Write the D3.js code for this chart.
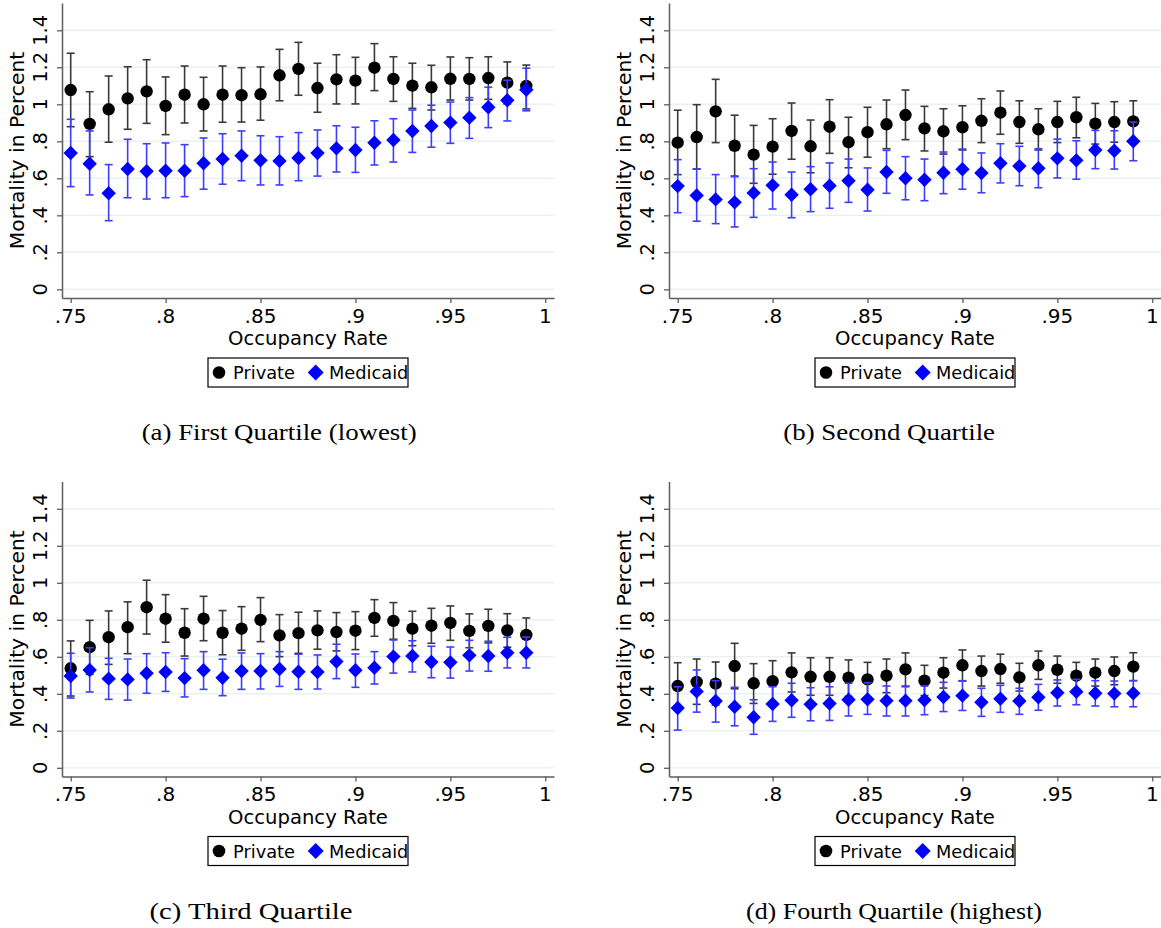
<!DOCTYPE html>
<html>
<head>
<meta charset="utf-8">
<script src="https://cdn.jsdelivr.net/npm/d3@7"></script>
<style>
  html, body { margin: 0; padding: 0; background: #fff; }
  svg { display: block; }
</style>
</head>
<body>
<svg id="chart" width="1161" height="928"></svg>
<script>
// ---------------- DATA ----------------
const occupancy = [0.75,0.76,0.77,0.78,0.79,0.80,0.81,0.82,0.83,0.84,0.85,0.86,0.87,0.88,0.89,0.90,0.91,0.92,0.93,0.94,0.95,0.96,0.97,0.98,0.99];
const xTickValues = [0.75,0.80,0.85,0.90,0.95,1.00];
const xTickLabels = [".75",".8",".85",".9",".95","1"];
const yTickValues = [0,0.2,0.4,0.6,0.8,1.0,1.2,1.4];
const yTickLabels = ["0",".2",".4",".6",".8","1","1.2","1.4"];
const seriesNames = ["Private","Medicaid"];
const xTitle = "Occupancy Rate";
const yTitle = "Mortality in Percent";
const captions = ["(a) First Quartile (lowest)","(b) Second Quartile","(c) Third Quartile","(d) Fourth Quartile (highest)"];

// Panel (a) First quartile
const privEstA = [1.077,0.894,0.973,1.032,1.070,0.991,1.052,1.000,1.052,1.049,1.054,1.157,1.191,1.088,1.135,1.128,1.198,1.137,1.101,1.092,1.138,1.137,1.142,1.117,1.099];
const privLoA  = [0.879,0.717,0.795,0.865,0.897,0.836,0.899,0.856,0.903,0.904,0.914,1.019,1.049,0.957,1.002,1.002,1.074,1.016,0.978,0.969,1.023,1.023,1.027,1.002,0.975];
const privHiA  = [1.276,1.068,1.153,1.203,1.241,1.148,1.207,1.146,1.207,1.198,1.202,1.297,1.335,1.222,1.268,1.254,1.328,1.257,1.222,1.211,1.256,1.252,1.257,1.229,1.212];
const medEstA  = [0.737,0.679,0.519,0.650,0.638,0.641,0.641,0.681,0.704,0.722,0.697,0.694,0.710,0.737,0.762,0.753,0.792,0.807,0.856,0.883,0.901,0.928,0.984,1.022,1.079];
const medLoA   = [0.555,0.510,0.371,0.495,0.488,0.495,0.501,0.541,0.568,0.587,0.564,0.564,0.587,0.612,0.634,0.632,0.672,0.688,0.740,0.768,0.789,0.816,0.874,0.910,0.965];
const medHiA   = [0.919,0.856,0.674,0.811,0.787,0.791,0.782,0.818,0.841,0.856,0.830,0.825,0.847,0.861,0.884,0.876,0.911,0.922,0.969,0.995,1.012,1.036,1.092,1.130,1.195];

// Panel (b) Second quartile
const privEstB = [0.793,0.823,0.962,0.776,0.728,0.771,0.856,0.773,0.879,0.795,0.849,0.892,0.942,0.870,0.854,0.876,0.911,0.955,0.904,0.865,0.904,0.930,0.895,0.904,0.908];
const privLoB  = [0.620,0.650,0.793,0.612,0.573,0.622,0.703,0.630,0.735,0.657,0.714,0.760,0.809,0.748,0.731,0.753,0.793,0.838,0.789,0.753,0.793,0.819,0.785,0.795,0.795];
const privHiB  = [0.968,0.998,1.135,0.941,0.886,0.922,1.007,0.915,1.025,0.930,0.984,1.023,1.077,0.989,0.976,0.992,1.030,1.072,1.019,0.976,1.016,1.038,1.005,1.014,1.019];
const medEstB  = [0.558,0.507,0.486,0.470,0.521,0.562,0.511,0.541,0.560,0.587,0.538,0.634,0.600,0.592,0.630,0.649,0.629,0.681,0.666,0.654,0.708,0.697,0.753,0.749,0.800];
const medLoB   = [0.414,0.368,0.355,0.337,0.389,0.434,0.387,0.420,0.438,0.470,0.423,0.519,0.484,0.479,0.517,0.541,0.522,0.575,0.560,0.549,0.602,0.595,0.652,0.650,0.695];
const medHiB   = [0.701,0.650,0.620,0.609,0.652,0.688,0.634,0.663,0.683,0.704,0.656,0.751,0.717,0.704,0.742,0.758,0.737,0.787,0.773,0.760,0.812,0.803,0.859,0.857,0.904];

// Panel (c) Third quartile
const privEstC = [0.538,0.652,0.706,0.760,0.868,0.806,0.730,0.806,0.730,0.752,0.799,0.716,0.728,0.743,0.734,0.741,0.810,0.794,0.752,0.768,0.783,0.740,0.767,0.743,0.718];
const privLoC  = [0.388,0.505,0.559,0.617,0.723,0.679,0.604,0.687,0.611,0.635,0.682,0.601,0.619,0.641,0.632,0.639,0.711,0.695,0.660,0.673,0.689,0.649,0.675,0.652,0.622];
const privHiC  = [0.686,0.797,0.848,0.897,1.014,0.936,0.860,0.927,0.850,0.871,0.920,0.828,0.841,0.848,0.839,0.844,0.909,0.893,0.846,0.862,0.875,0.832,0.857,0.833,0.810];
const medEstC  = [0.496,0.529,0.482,0.478,0.511,0.518,0.485,0.527,0.487,0.523,0.523,0.534,0.519,0.518,0.574,0.527,0.541,0.601,0.604,0.572,0.570,0.608,0.604,0.622,0.622];
const medLoC   = [0.377,0.410,0.370,0.366,0.403,0.413,0.383,0.424,0.390,0.424,0.426,0.440,0.424,0.426,0.482,0.435,0.453,0.512,0.518,0.487,0.485,0.523,0.522,0.540,0.540];
const medHiC   = [0.619,0.649,0.592,0.588,0.617,0.622,0.590,0.628,0.587,0.621,0.617,0.628,0.614,0.610,0.668,0.615,0.628,0.691,0.687,0.657,0.653,0.689,0.684,0.706,0.707];

// Panel (d) Fourth quartile
const privEstD = [0.442,0.464,0.455,0.550,0.457,0.468,0.516,0.492,0.492,0.487,0.478,0.498,0.532,0.471,0.514,0.554,0.523,0.534,0.489,0.554,0.530,0.498,0.514,0.523,0.547];
const privLoD  = [0.311,0.343,0.339,0.427,0.348,0.357,0.410,0.392,0.392,0.386,0.382,0.406,0.442,0.390,0.431,0.469,0.442,0.457,0.415,0.478,0.457,0.424,0.442,0.449,0.471];
const privHiD  = [0.568,0.588,0.572,0.673,0.563,0.579,0.621,0.595,0.595,0.583,0.570,0.588,0.621,0.554,0.595,0.637,0.604,0.614,0.565,0.631,0.604,0.570,0.588,0.599,0.622];
const medEstD  = [0.323,0.413,0.361,0.330,0.273,0.345,0.365,0.343,0.348,0.368,0.370,0.363,0.363,0.366,0.383,0.390,0.354,0.373,0.361,0.381,0.406,0.411,0.403,0.401,0.403];
const medLoD   = [0.204,0.301,0.247,0.227,0.181,0.251,0.273,0.254,0.256,0.280,0.289,0.280,0.280,0.287,0.304,0.310,0.278,0.300,0.289,0.311,0.334,0.341,0.334,0.330,0.330];
const medHiD   = [0.438,0.529,0.471,0.435,0.368,0.438,0.457,0.433,0.438,0.457,0.460,0.442,0.438,0.442,0.462,0.471,0.430,0.446,0.430,0.451,0.475,0.478,0.471,0.469,0.471];

// ---------------- LAYOUT ----------------
const panels = [
  { left: 62,  top: 0,     caption: captions[0], capX: 279.2, capLen: 275,
    priv: [privEstA, privLoA, privHiA], med: [medEstA, medLoA, medHiA] },
  { left: 669, top: 0,     caption: captions[1], capX: 889.2, capLen: 211.7,
    priv: [privEstB, privLoB, privHiB], med: [medEstB, medLoB, medHiB] },
  { left: 62,  top: 478.5, caption: captions[2], capX: 251,   capLen: 203,
    priv: [privEstC, privLoC, privHiC], med: [medEstC, medLoC, medHiC] },
  { left: 669, top: 478.5, caption: captions[3], capX: 894,   capLen: 296,
    priv: [privEstD, privLoD, privHiD], med: [medEstD, medLoD, medHiD] }
];

const plotW = 492;
const plotTop = 3, plotBottom = 298;
const xDomain = [0.74542, 1.0046];
const yDomain = [-0.047, 1.5476];

const sansFont = "'DejaVu Sans', Verdana, sans-serif";
const serifFont = "'Liberation Serif', 'DejaVu Serif', serif";
const axisColor = "#5e5e5e";
const gridColor = "#e9f1f3";
const privColor = "#000000";
const privBarColor = "#3a3a3a";
const medColor = "#0000ff";
const medBarColor = "#3d3dff";

const svg = d3.select("#chart");

function diamondPath(h) { return `M0,${-h}L${h},0L0,${h}L${-h},0Z`; }

panels.forEach(p => {
  const g = svg.append("g").attr("transform", `translate(0,${p.top})`);
  const x = d3.scaleLinear().domain(xDomain).range([p.left, p.left + plotW]);
  const y = d3.scaleLinear().domain(yDomain).range([plotBottom, plotTop]);

  // gridlines
  g.append("g").selectAll("line").data(yTickValues).join("line")
    .attr("x1", p.left).attr("x2", p.left + plotW)
    .attr("y1", d => y(d)).attr("y2", d => y(d))
    .attr("stroke", gridColor).attr("stroke-width", 1.6);

  // y axis
  const yAxis = g.append("g").attr("transform", `translate(${p.left},0)`)
    .call(d3.axisLeft(y).tickValues(yTickValues).tickSize(5).tickSizeOuter(0).tickFormat(""));
  yAxis.select(".domain").attr("stroke", axisColor).attr("stroke-width", 1.5);
  yAxis.selectAll(".tick line").attr("stroke", axisColor).attr("stroke-width", 1.3);
  g.append("g").selectAll("text").data(yTickValues).join("text")
    .attr("transform", d => `translate(${p.left - 15},${y(d)}) rotate(-90)`)
    .attr("text-anchor", "middle")
    .attr("font-family", sansFont).attr("font-size", 19.5).attr("fill", "#000")
    .text((d, i) => yTickLabels[i]);

  // x axis
  const xAxis = g.append("g").attr("transform", `translate(0,${plotBottom})`)
    .call(d3.axisBottom(x).tickValues(xTickValues).tickSize(5).tickSizeOuter(0).tickFormat(""));
  xAxis.select(".domain").attr("stroke", axisColor).attr("stroke-width", 1.5);
  xAxis.selectAll(".tick line").attr("stroke", axisColor).attr("stroke-width", 1.3);
  g.append("g").selectAll("text").data(xTickValues).join("text")
    .attr("x", d => x(d)).attr("y", 322.5)
    .attr("text-anchor", "middle")
    .attr("font-family", sansFont).attr("font-size", 20).attr("fill", "#000")
    .text((d, i) => xTickLabels[i]);

  // axis titles
  g.append("text")
    .attr("x", p.left + plotW / 2).attr("y", 345)
    .attr("text-anchor", "middle")
    .attr("font-family", sansFont).attr("font-size", 19.6).attr("fill", "#000")
    .text(xTitle);
  g.append("text")
    .attr("transform", `translate(${p.left - 38},${(plotTop + plotBottom) / 2}) rotate(-90)`)
    .attr("text-anchor", "middle")
    .attr("font-family", sansFont).attr("font-size", 20.3).attr("fill", "#000")
    .text(yTitle);

  const capHalf = 4;
  function drawSeries(est, lo, hi, barColor, fillColor, shape) {
    const rows = occupancy.map((o, i) => ({ o, e: est[i], l: lo[i], h: hi[i] }));
    const bars = g.append("g").attr("stroke", barColor).attr("stroke-width", 1.6).attr("fill", "none");
    bars.selectAll("line.v").data(rows).join("line").attr("class", "v")
      .attr("x1", d => x(d.o)).attr("x2", d => x(d.o))
      .attr("y1", d => y(d.l)).attr("y2", d => y(d.h));
    bars.selectAll("line.ct").data(rows).join("line").attr("class", "ct")
      .attr("x1", d => x(d.o) - capHalf).attr("x2", d => x(d.o) + capHalf)
      .attr("y1", d => y(d.h)).attr("y2", d => y(d.h));
    bars.selectAll("line.cb").data(rows).join("line").attr("class", "cb")
      .attr("x1", d => x(d.o) - capHalf).attr("x2", d => x(d.o) + capHalf)
      .attr("y1", d => y(d.l)).attr("y2", d => y(d.l));
    const pts = g.append("g").attr("fill", fillColor);
    if (shape === "circle") {
      pts.selectAll("circle").data(rows).join("circle")
        .attr("cx", d => x(d.o)).attr("cy", d => y(d.e)).attr("r", 6.2);
    } else {
      pts.selectAll("path").data(rows).join("path")
        .attr("transform", d => `translate(${x(d.o)},${y(d.e)})`)
        .attr("d", diamondPath(7.2));
    }
  }
  drawSeries(p.priv[0], p.priv[1], p.priv[2], privBarColor, privColor, "circle");
  drawSeries(p.med[0], p.med[1], p.med[2], medBarColor, medColor, "diamond");

  // legend
  const lg = g.append("g").attr("transform", `translate(${p.left + 146},358)`);
  lg.append("rect").attr("x", 0).attr("y", 0).attr("width", 200).attr("height", 29)
    .attr("fill", "#fff").attr("stroke", "#000").attr("stroke-width", 1.2);
  lg.append("circle").attr("cx", 11).attr("cy", 14.5).attr("r", 6.3).attr("fill", privColor);
  lg.append("text").attr("x", 25).attr("y", 21.3)
    .attr("font-family", sansFont).attr("font-size", 17.8).attr("fill", "#000").text(seriesNames[0]);
  lg.append("path").attr("transform", "translate(107.7,14.5)").attr("d", diamondPath(8)).attr("fill", medColor);
  lg.append("text").attr("x", 121).attr("y", 21.3)
    .attr("font-family", sansFont).attr("font-size", 17.8).attr("fill", "#000").text(seriesNames[1]);

  // caption
  g.append("text")
    .attr("x", p.capX).attr("y", 440)
    .attr("text-anchor", "middle")
    .attr("font-family", serifFont).attr("font-size", 24).attr("fill", "#000")
    .attr("textLength", p.capLen).attr("lengthAdjust", "spacingAndGlyphs")
    .text(p.caption);
});
</script>
</body>
</html>
